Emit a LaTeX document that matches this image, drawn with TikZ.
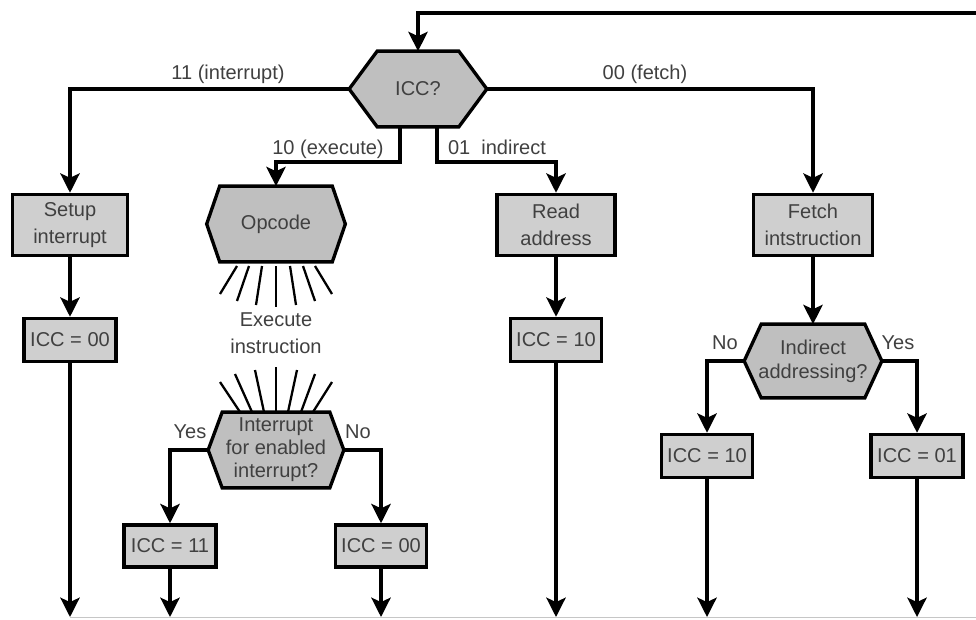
\documentclass[tikz,border=0pt]{standalone}
\usepackage{fontspec}
\setmainfont{Liberation Sans}
\usetikzlibrary{arrows.meta,calc,backgrounds}
\newcommand{\hexdraw}[2]{\draw[hexline] (#1.west) -- ($(#1.north west)+(#2,0)$) -- ($(#1.north east)+(-#2,0)$) -- (#1.east) -- ($(#1.south east)+(-#2,0)$) -- ($(#1.south west)+(#2,0)$) -- cycle;}
\begin{document}
\begin{tikzpicture}[x=0.02cm,y=-0.02cm,
  font=\fontsize{11.4}{15}\selectfont,
  every node/.style={text=black!75},
  box/.style={draw=black, line width=2pt, fill=gray!38, align=center, inner sep=0pt},
  hexnode/.style={align=center, inner sep=0pt},
  hexline/.style={draw=black, line width=1.9pt, fill=gray!50},
  conn/.style={line width=1.9pt, -{Stealth[length=11pt,width=11pt,inset=2.5pt]}},
  ray/.style={line width=1.3pt},
  lbl/.style={inner sep=0pt}]
\useasboundingbox (0,0) rectangle (976,619);

% decision hexagons
\node[hexnode, minimum width=2.74cm, minimum height=1.5cm] (icc) at (418,89) {ICC?};
\node[hexnode, minimum width=2.76cm, minimum height=1.5cm] (opcode) at (276,224) {Opcode};
\node[hexnode, minimum width=2.70cm, minimum height=1.5cm, font=\fontsize{11.4}{13}\selectfont] (intr) at (276,450) {Interrupt\\for enabled\\interrupt?};
\node[hexnode, minimum width=2.74cm, minimum height=1.46cm, font=\fontsize{11.4}{13.5}\selectfont] (indir) at (813,361) {Indirect\\addressing?};
\begin{pgfonlayer}{background}
\hexdraw{icc}{28}
\hexdraw{opcode}{13}
\hexdraw{intr}{14}
\hexdraw{indir}{17}
\end{pgfonlayer}

% boxes
\node[box, minimum width=2.30cm, minimum height=1.22cm] (setup) at (70,225) {Setup\\interrupt};
\node[box, minimum width=1.84cm, minimum height=0.86cm] (iccA) at (70,340) {ICC = 00};
\node[box, minimum width=2.36cm, minimum height=1.22cm] (read) at (556,225) {Read\\address};
\node[box, minimum width=1.82cm, minimum height=0.86cm] (iccB) at (556,340) {ICC = 10};
\node[box, minimum width=2.38cm, minimum height=1.22cm] (fetch) at (813,225) {Fetch\\intstruction};
\node[box, minimum width=1.82cm, minimum height=0.86cm] (iccC) at (707,456) {ICC = 10};
\node[box, minimum width=1.84cm, minimum height=0.86cm] (iccD) at (917,456) {ICC = 01};
\node[box, minimum width=1.84cm, minimum height=0.84cm] (iccE) at (170,546) {ICC = 11};
\node[box, minimum width=1.82cm, minimum height=0.84cm] (iccF) at (381,546) {ICC = 00};

\node[align=center, inner sep=0pt, font=\fontsize{11.4}{15.3}\selectfont] (exec) at (276,333) {Execute\\instruction};

% labels
\node[lbl] (l11) at (228,74) {11 (interrupt)};
\node[lbl] (l00) at (645,74) {00 (fetch)};
\node[lbl] (l10) at (328,149) {10 (execute)};
\node[lbl] (l01) at (497,147) {01\ \ indirect};
\node[lbl] (ly1) at (190,432) {Yes};
\node[lbl] (ln1) at (358,432) {No};
\node[lbl] (ln2) at (725,343) {No};
\node[lbl] (ly2) at (898,343) {Yes};

% bottom edge line
\coordinate (edgeL) at (70,617.5);
\coordinate (edgeR) at (976,617.5);
\draw[gray!45, line width=0.6pt] (edgeL) -- (edgeR);

% connectors
\coordinate (loopin) at (976,13);
\draw[conn] (loopin) -| (icc.north);
\draw[conn] (icc.west) -| (setup.north);
\draw[conn] (icc.east) -| (fetch.north);
\draw[conn] ($(icc.south)+(-18,0)$) -- ++(0,35) -| (opcode.north);
\draw[conn] ($(icc.south)+(19,0)$) -- ++(0,35) -| (read.north);
\draw[conn] (setup.south) -- (iccA.north);
\draw[conn] (read.south) -- (iccB.north);
\draw[conn] (fetch.south) -- (indir.north);
\draw[conn] (indir.west) -| (iccC.north);
\draw[conn] (indir.east) -| (iccD.north);
\draw[conn] (intr.west) -| (iccE.north);
\draw[conn] (intr.east) -| (iccF.north);

\coordinate (bot) at (0,617);
\foreach \n in {iccA,iccB,iccC,iccD,iccE,iccF}{
  \draw[conn] (\n.south) -- (\n.south |- bot);
}

% rays from opcode
\draw[ray] (237,266) -- (220,294);
\draw[ray] (249,266) -- (237,301);
\draw[ray] (262,266) -- (256,305);
\draw[ray] (276,266) -- (276,307);
\draw[ray] (290,266) -- (296,305);
\draw[ray] (303,266) -- (315,301);
\draw[ray] (315,266) -- (332,294);
% rays into interrupt decision
\draw[ray] (220,382) -- (240,412);
\draw[ray] (235,374) -- (252,412);
\draw[ray] (255,370) -- (264,412);
\draw[ray] (276,367) -- (276,412);
\draw[ray] (297,370) -- (288,412);
\draw[ray] (315,374) -- (301,412);
\draw[ray] (332,382) -- (313,412);
\end{tikzpicture}
\end{document}
